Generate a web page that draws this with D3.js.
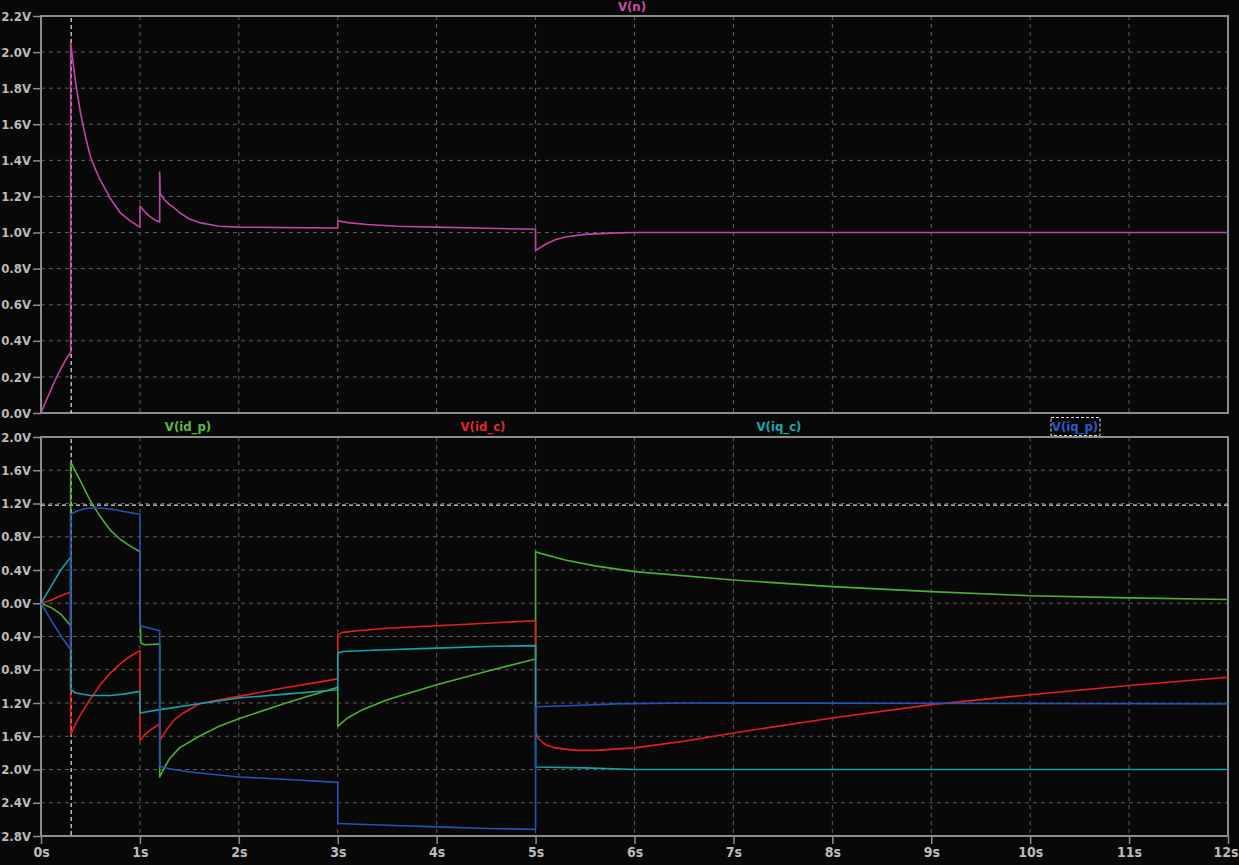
<!DOCTYPE html>
<html>
<head>
<meta charset="utf-8">
<script src="https://cdn.jsdelivr.net/npm/d3@7"></script>
<style>
  html, body { margin: 0; padding: 0; background: #080808; }
  svg { display: block; }
  text { font-family: "DejaVu Sans Condensed", "DejaVu Sans", sans-serif; font-weight: bold; }
</style>
</head>
<body>
<svg id="chart" width="1239" height="865"></svg>
<script>
// Time axis (seconds) and voltage ticks
const timeTicks = [0, 1, 2, 3, 4, 5, 6, 7, 8, 9, 10, 11, 12];
const topTicks = [0.0, 0.2, 0.4, 0.6, 0.8, 1.0, 1.2, 1.4, 1.6, 1.8, 2.0, 2.2];
const bottomTicks = [2.0, 1.6, 1.2, 0.8, 0.4, 0.0, -0.4, -0.8, -1.2, -1.6, -2.0, -2.4, -2.8];

// Transient traces: [time (s), volts]
const vN = [
  [0, 0], [0.05, 0.065], [0.1, 0.128], [0.15, 0.19], [0.2, 0.245], [0.25, 0.295], [0.3, 0.335],
  [0.3, 2.05], [0.35, 1.83], [0.4, 1.66], [0.45, 1.53], [0.5, 1.42], [0.55, 1.35], [0.6, 1.29],
  [0.7, 1.19], [0.8, 1.11], [0.9, 1.065], [1.0, 1.03],
  [1.0, 1.147], [1.05, 1.115], [1.1, 1.09], [1.15, 1.07], [1.2, 1.058],
  [1.2, 1.335], [1.205, 1.215], [1.25, 1.18], [1.3, 1.155], [1.34, 1.14], [1.4, 1.11],
  [1.5, 1.075], [1.6, 1.055], [1.8, 1.035], [2.0, 1.03], [2.5, 1.027], [3.0, 1.025],
  [3.0, 1.065], [3.1, 1.055], [3.3, 1.045], [3.6, 1.035], [4.0, 1.03], [4.5, 1.024], [5.0, 1.018],
  [5.0, 0.90], [5.1, 0.935], [5.2, 0.96], [5.3, 0.975], [5.5, 0.99], [5.75, 0.997], [6.0, 1.0], [12, 1.0]
];

const vIdP = [
  [0, 0], [0.1, -0.05], [0.2, -0.13], [0.3, -0.27],
  [0.3, 1.70], [0.35, 1.58], [0.4, 1.47], [0.45, 1.35], [0.5, 1.23], [0.6, 1.04], [0.7, 0.88],
  [0.8, 0.77], [0.9, 0.69], [1.0, 0.62],
  [1.0, -0.12], [1.01, -0.48], [1.05, -0.50], [1.2, -0.49],
  [1.2, -2.09], [1.25, -1.97], [1.3, -1.87], [1.4, -1.74], [1.6, -1.60], [1.8, -1.48],
  [2.0, -1.39], [2.5, -1.19], [3.0, -1.01],
  [3.0, -1.48], [3.1, -1.38], [3.25, -1.28], [3.5, -1.16], [3.75, -1.07], [4.0, -0.98],
  [4.5, -0.82], [5.0, -0.67],
  [5.0, 0.62], [5.05, 0.60], [5.3, 0.52], [5.6, 0.45], [6.0, 0.38], [7.0, 0.28], [8.0, 0.20],
  [9.0, 0.14], [10.0, 0.09], [11.0, 0.065], [12.0, 0.045]
];

const vIdC = [
  [0, 0], [0.1, 0.035], [0.2, 0.09], [0.3, 0.135],
  [0.3, -1.58], [0.35, -1.45], [0.4, -1.34], [0.5, -1.15], [0.6, -0.98], [0.7, -0.84],
  [0.8, -0.73], [0.9, -0.64], [1.0, -0.57],
  [1.0, -1.65], [1.05, -1.58], [1.1, -1.53], [1.2, -1.45],
  [1.2, -1.65], [1.27, -1.52], [1.35, -1.40], [1.44, -1.32], [1.6, -1.21], [1.8, -1.16],
  [2.0, -1.12], [2.45, -1.02], [3.0, -0.91],
  [3.0, -0.38], [3.05, -0.35], [3.2, -0.33], [3.5, -0.30], [4.0, -0.27], [4.5, -0.24], [5.0, -0.21],
  [5.0, -1.55], [5.03, -1.63], [5.1, -1.70], [5.2, -1.74], [5.4, -1.77], [5.6, -1.77],
  [6.0, -1.74], [6.5, -1.66], [7.0, -1.56], [8.0, -1.38], [9.0, -1.22], [10.0, -1.10],
  [11.0, -0.99], [12.0, -0.89]
];

const vIqC = [
  [0, 0], [0.1, 0.20], [0.2, 0.40], [0.3, 0.555],
  [0.3, -1.04], [0.35, -1.08], [0.5, -1.11], [0.7, -1.11], [0.85, -1.09], [1.0, -1.06],
  [1.0, -1.32], [1.2, -1.28], [1.6, -1.21], [2.0, -1.14], [2.5, -1.09], [3.0, -1.04],
  [3.0, -0.60], [3.05, -0.58], [3.5, -0.56], [4.0, -0.54], [4.5, -0.52], [5.0, -0.51],
  [5.0, -1.97], [5.5, -1.98], [6.0, -2.0], [12, -2.0]
];

const vIqP = [
  [0, 0], [0.1, -0.2], [0.2, -0.39], [0.3, -0.56],
  [0.3, 1.07], [0.35, 1.10], [0.42, 1.13], [0.5, 1.145], [0.6, 1.145], [0.72, 1.13],
  [0.85, 1.10], [1.0, 1.07],
  [1.0, -0.27], [1.2, -0.33],
  [1.2, -1.96], [1.3, -1.99], [1.5, -2.03], [2.0, -2.09], [2.5, -2.12], [3.0, -2.155],
  [3.0, -2.65], [3.5, -2.67], [4.0, -2.69], [4.5, -2.71], [5.0, -2.72],
  [5.0, -1.245], [5.4, -1.23], [5.8, -1.21], [6.5, -1.20], [12, -1.21]
];

// Cursor positions
const cursorTime = 0.305;
const cursorLevel = 1.18;

const bottomSeries = [
  { name: "V(id_p)", data: vIdP, color: "#4fae34", labelColor: "#5dbb3c" },
  { name: "V(id_c)", data: vIdC, color: "#e41f1f", labelColor: "#e42a2a" },
  { name: "V(iq_c)", data: vIqC, color: "#14a3ac", labelColor: "#18aab0" },
  { name: "V(iq_p)", data: vIqP, color: "#2552b8", labelColor: "#2a5cc8" }
];

const svg = d3.select("#chart");
const W = 1239, H = 865;
svg.append("rect").attr("width", W).attr("height", H).attr("fill", "#080808");

const left = 41, right = 1228;
const topPanel = { y0: 16, y1: 413 };
const botPanel = { y0: 437, y1: 836 };

const x = d3.scaleLinear().domain([0, 12]).range([left, right]);
const yTop = d3.scaleLinear().domain([0, 2.2]).range([topPanel.y1, topPanel.y0]);
const yBot = d3.scaleLinear().domain([-2.8, 2.0]).range([botPanel.y1, botPanel.y0]);

const frameColor = "#8c8c8c";
const gridColor = "#5e5e5e";
const labelColor = "#bcbcbc";

function drawPanel(id, panel, yScale, ticks, showX) {
  const g = svg.append("g").attr("class", id);

  // grid
  g.append("g").selectAll("line.gx")
    .data(timeTicks.slice(1, -1))
    .join("line")
    .attr("x1", d => x(d)).attr("x2", d => x(d))
    .attr("y1", panel.y0).attr("y2", panel.y1)
    .attr("stroke", gridColor).attr("stroke-width", 1)
    .attr("stroke-dasharray", "4,4");
  g.append("g").selectAll("line.gy")
    .data(ticks.filter(t => Math.abs(yScale(t) - panel.y0) > 1 && Math.abs(yScale(t) - panel.y1) > 1))
    .join("line")
    .attr("x1", left).attr("x2", right)
    .attr("y1", d => yScale(d)).attr("y2", d => yScale(d))
    .attr("stroke", gridColor).attr("stroke-width", 1)
    .attr("stroke-dasharray", "4,4");

  // y axis
  const yAxis = d3.axisLeft(yScale)
    .tickValues(ticks)
    .tickSize(8)
    .tickPadding(2)
    .tickFormat(v => Math.abs(v).toFixed(1) + "V");
  const ya = g.append("g").attr("transform", `translate(${left},0)`).call(yAxis);
  ya.select(".domain").remove();
  ya.selectAll("line").attr("stroke", frameColor).attr("stroke-width", 1.5);
  ya.selectAll("text").attr("fill", labelColor).attr("font-size", 13)
    .attr("font-family", '"DejaVu Sans Condensed", "DejaVu Sans", sans-serif')
    .attr("font-weight", "bold");

  // frame
  g.append("rect")
    .attr("x", left).attr("y", panel.y0)
    .attr("width", right - left).attr("height", panel.y1 - panel.y0)
    .attr("fill", "none").attr("stroke", frameColor).attr("stroke-width", 2);

  if (showX) {
    const xAxis = d3.axisBottom(x)
      .tickValues(timeTicks)
      .tickSize(8)
      .tickPadding(3)
      .tickFormat(d => d + "s");
    const xa = g.append("g").attr("transform", `translate(0,${panel.y1})`).call(xAxis);
    xa.select(".domain").remove();
    xa.selectAll("line").attr("stroke", frameColor).attr("stroke-width", 1.5);
    xa.selectAll("text").attr("fill", labelColor).attr("font-size", 14)
      .attr("font-family", '"DejaVu Sans Condensed", "DejaVu Sans", sans-serif')
      .attr("font-weight", "bold");
    // keep the last label inside the page edge
    xa.selectAll("text").filter(d => d === timeTicks[timeTicks.length - 1])
      .attr("text-anchor", "end").attr("dx", 10);
  }
  return g;
}

drawPanel("top", topPanel, yTop, topTicks, false);
drawPanel("bottom", botPanel, yBot, bottomTicks, true);

// clip paths
const defs = svg.append("defs");
defs.append("clipPath").attr("id", "clipTop").append("rect")
  .attr("x", left).attr("y", topPanel.y0).attr("width", right - left).attr("height", topPanel.y1 - topPanel.y0);
defs.append("clipPath").attr("id", "clipBot").append("rect")
  .attr("x", left).attr("y", botPanel.y0).attr("width", right - left).attr("height", botPanel.y1 - botPanel.y0);

// cursors
svg.append("line")
  .attr("x1", x(cursorTime)).attr("x2", x(cursorTime))
  .attr("y1", topPanel.y0 + 2).attr("y2", topPanel.y1)
  .attr("stroke", "#e8e8e8").attr("stroke-width", 1.2).attr("stroke-dasharray", "4,3");
svg.append("line")
  .attr("x1", x(cursorTime)).attr("x2", x(cursorTime))
  .attr("y1", botPanel.y0 + 2).attr("y2", botPanel.y1)
  .attr("stroke", "#e8e8e8").attr("stroke-width", 1.2).attr("stroke-dasharray", "4,3");
svg.append("line")
  .attr("x1", left).attr("x2", right)
  .attr("y1", yBot(cursorLevel)).attr("y2", yBot(cursorLevel))
  .attr("stroke", "#e0e0e0").attr("stroke-width", 1.2).attr("stroke-dasharray", "4,3");

// traces
const lineTop = d3.line().x(d => x(d[0])).y(d => yTop(d[1]));
const lineBot = d3.line().x(d => x(d[0])).y(d => yBot(d[1]));

svg.append("g").attr("clip-path", "url(#clipTop)")
  .append("path")
  .attr("d", lineTop(vN))
  .attr("fill", "none").attr("stroke", "#bf45a6").attr("stroke-width", 1.6)
  .attr("stroke-linejoin", "round");

svg.append("g").attr("clip-path", "url(#clipBot)")
  .selectAll("path")
  .data(bottomSeries)
  .join("path")
  .attr("d", d => lineBot(d.data))
  .attr("fill", "none").attr("stroke", d => d.color).attr("stroke-width", 1.6)
  .attr("stroke-linejoin", "round");

// titles
svg.append("text")
  .attr("x", 632).attr("y", 11)
  .attr("text-anchor", "middle")
  .attr("font-size", 13)
  .attr("fill", "#c550ae")
  .text("V(n)");

const legendX = [188, 483, 779, 1075];
svg.selectAll("text.legend")
  .data(bottomSeries)
  .join("text")
  .attr("class", "legend")
  .attr("x", (d, i) => legendX[i]).attr("y", 431)
  .attr("text-anchor", "middle")
  .attr("font-size", 13)
  .attr("fill", d => d.labelColor)
  .text(d => d.name);

// selection box around the last legend entry
svg.append("rect")
  .attr("x", 1051).attr("y", 417.5).attr("width", 49).attr("height", 18)
  .attr("fill", "none").attr("stroke", "#e0e0e0").attr("stroke-width", 1)
  .attr("stroke-dasharray", "3,2");
</script>
</body>
</html>
